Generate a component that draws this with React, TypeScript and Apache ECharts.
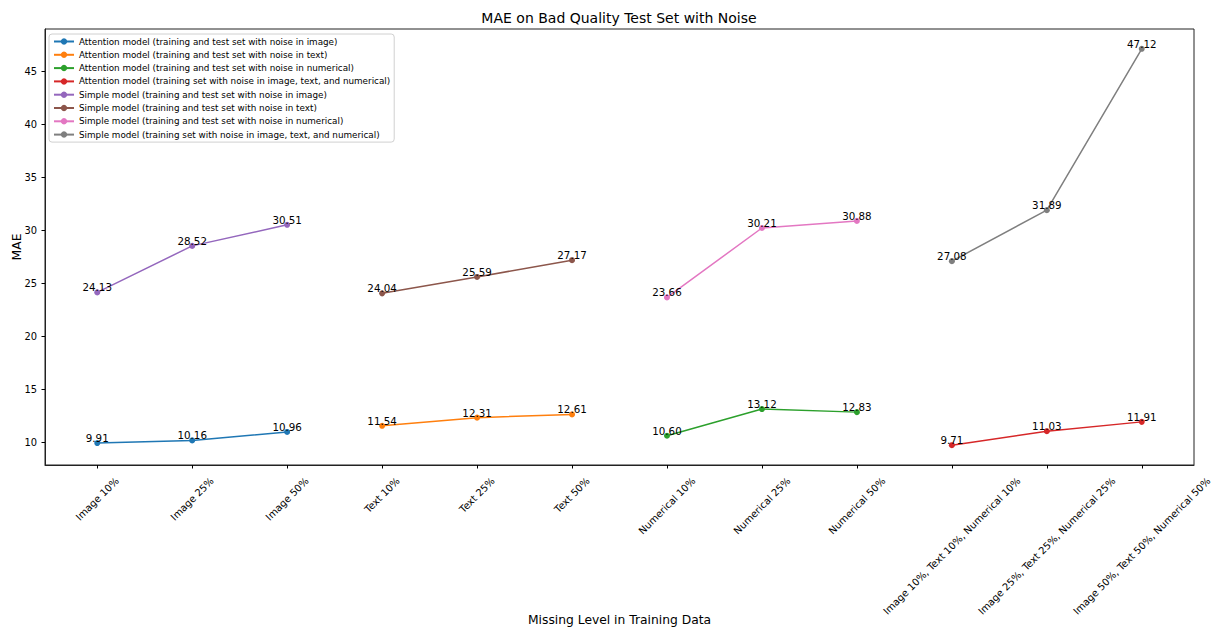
import React, { useEffect, useRef } from "react";
import * as echarts from "echarts";

const FONT = '"DejaVu Sans", Verdana, sans-serif';

// x positions (category slots) and their tick labels
const categories = [
  "Image 10%",
  "Image 25%",
  "Image 50%",
  "Text 10%",
  "Text 25%",
  "Text 50%",
  "Numerical 10%",
  "Numerical 25%",
  "Numerical 50%",
  "Image 10%, Text 10%, Numerical 10%",
  "Image 25%, Text 25%, Numerical 25%",
  "Image 50%, Text 50%, Numerical 50%",
];
const imageSlots = [0, 1, 2];
const textSlots = [3, 4, 5];
const numericalSlots = [6, 7, 8];
const combinedSlots = [9, 10, 11];

const yTicks = [10, 15, 20, 25, 30, 35, 40, 45];

// MAE values
const attentionImage = [9.91, 10.16, 10.96];
const attentionText = [11.54, 12.31, 12.61];
const attentionNumerical = [10.6, 13.12, 12.83];
const attentionCombined = [9.71, 11.03, 11.91];
const simpleImage = [24.13, 28.52, 30.51];
const simpleText = [24.04, 25.59, 27.17];
const simpleNumerical = [23.66, 30.21, 30.88];
const simpleCombined = [27.08, 31.89, 47.12];

const seriesNames = [
  "Attention model (training and test set with noise in image)",
  "Attention model (training and test set with noise in text)",
  "Attention model (training and test set with noise in numerical)",
  "Attention model (training set with noise in image, text, and numerical)",
  "Simple model (training and test set with noise in image)",
  "Simple model (training and test set with noise in text)",
  "Simple model (training and test set with noise in numerical)",
  "Simple model (training set with noise in image, text, and numerical)",
];
const palette = [
  "#1f77b4",
  "#ff7f0e",
  "#2ca02c",
  "#d62728",
  "#9467bd",
  "#8c564b",
  "#e377c2",
  "#7f7f7f",
];

const seriesSlots = [
  imageSlots,
  textSlots,
  numericalSlots,
  combinedSlots,
  imageSlots,
  textSlots,
  numericalSlots,
  combinedSlots,
];
const seriesValues = [
  attentionImage,
  attentionText,
  attentionNumerical,
  attentionCombined,
  simpleImage,
  simpleText,
  simpleNumerical,
  simpleCombined,
];

const TICK_FS = 9.9;
const LABEL_FS = 10.3;

let measureCtx: CanvasRenderingContext2D | null = null;
function textWidth(text: string, size: number): number {
  if (!measureCtx) {
    measureCtx = document.createElement("canvas").getContext("2d");
  }
  if (!measureCtx) return text.length * size * 0.55;
  measureCtx.font = `${size}px ${FONT}`;
  return measureCtx.measureText(text).width;
}

export default function App() {
  const ref = useRef<HTMLDivElement>(null);

  useEffect(() => {
    if (!ref.current) return;
    const chart = echarts.init(ref.current, undefined, { renderer: "svg" });

    // 5% padding around the data range, like the default autoscale margins
    const all = seriesValues.flat();
    const lo = Math.min(...all);
    const hi = Math.max(...all);
    const pad = (hi - lo) * 0.05;
    const yMin = lo - pad;
    const yMax = hi + pad;
    const xPad = (categories.length - 1) * 0.05;

    const lineSeries = seriesNames.map((name, s) => ({
      type: "line",
      name,
      data: seriesSlots[s].map((x, k) => [x, seriesValues[s][k]]),
      symbol: "circle",
      symbolSize: 6,
      color: palette[s],
      lineStyle: { width: 1.5, color: palette[s] },
      itemStyle: { color: palette[s] },
      label: {
        show: true,
        position: "top",
        distance: 0,
        offset: [0, 3],
        formatter: (p: any) => Number(p.value[1]).toFixed(2),
        fontSize: LABEL_FS,
        fontFamily: FONT,
        color: "#000",
      },
      emphasis: { disabled: true },
      z: 3,
    }));

    // rotated category labels, centred under each tick
    const tickLabels = {
      type: "custom",
      name: "tick-labels",
      silent: true,
      clip: false,
      data: categories.map((_, i) => [i, yMin]),
      encode: { x: 0, y: 1 },
      renderItem: (_params: any, api: any) => {
        const i = api.value(0);
        const p = api.coord([i, yMin]);
        const text = categories[i];
        const L = textWidth(text, TICK_FS);
        const h = TICK_FS * 1.17;
        const half = ((L + h) * Math.SQRT1_2) / 2;
        return {
          type: "text",
          x: p[0],
          y: p[1] + 10 + half,
          rotation: Math.PI / 4,
          style: {
            text,
            align: "center",
            verticalAlign: "middle",
            fontSize: TICK_FS,
            fontFamily: FONT,
            fill: "#000",
          },
        };
      },
      z: 1,
    };

    chart.setOption({
      animation: false,
      textStyle: { fontFamily: FONT },
      title: {
        text: "MAE on Bad Quality Test Set with Noise",
        left: 619,
        top: 11,
        padding: 0,
        textAlign: "center",
        textStyle: {
          fontSize: 14,
          fontWeight: "normal",
          color: "#000",
          fontFamily: FONT,
        },
      },
      legend: {
        data: seriesNames,
        orient: "vertical",
        left: 49,
        top: 34,
        padding: [3, 4, 3, 4],
        itemGap: 4.3,
        itemWidth: 20,
        itemHeight: 8,
        backgroundColor: "rgba(255,255,255,0.8)",
        borderColor: "#d0d0d0",
        borderWidth: 1,
        borderRadius: 3,
        selectedMode: false,
        textStyle: {
          fontSize: 8.8,
          lineHeight: 9,
          color: "#000",
          fontFamily: FONT,
        },
      },
      grid: {
        left: 45,
        right: 20,
        top: 29,
        bottom: 162,
        outerBoundsMode: "none",
        containLabel: false,
        show: true,
        borderColor: "#222",
        borderWidth: 1,
        backgroundColor: "transparent",
      },
      xAxis: {
        type: "value",
        min: -xPad,
        max: categories.length - 1 + xPad,
        axisLine: {
          show: true,
          onZero: false,
          lineStyle: { color: "#222", width: 1 },
        },
        axisTick: {
          show: true,
          length: 3.5,
          customValues: categories.map((_, i) => i),
          lineStyle: { color: "#000" },
        },
        axisLabel: { show: false },
        splitLine: { show: false },
        name: "Missing Level in Training Data",
        nameLocation: "middle",
        nameGap: 149,
        nameMoveOverlap: false,
        nameTextStyle: { fontSize: 12.3, color: "#000", fontFamily: FONT },
      },
      yAxis: {
        type: "value",
        min: yMin,
        max: yMax,
        axisLine: {
          show: true,
          onZero: false,
          lineStyle: { color: "#222", width: 1 },
        },
        axisTick: {
          show: true,
          length: 3.5,
          customValues: yTicks,
          lineStyle: { color: "#000" },
        },
        axisLabel: {
          show: true,
          customValues: yTicks,
          margin: 8,
          fontSize: TICK_FS,
          color: "#000",
          fontFamily: FONT,
        },
        splitLine: { show: false },
        name: "MAE",
        nameLocation: "middle",
        nameGap: 22,
        nameMoveOverlap: false,
        nameTextStyle: { fontSize: 12.3, color: "#000", fontFamily: FONT },
      },
      series: [...lineSeries, tickLabels],
    });

    return () => chart.dispose();
  }, []);

  return (
    <div
      ref={ref}
      style={{
        position: "fixed",
        left: 0,
        top: 0,
        width: 1214,
        height: 627,
        background: "#fff",
      }}
    />
  );
}
